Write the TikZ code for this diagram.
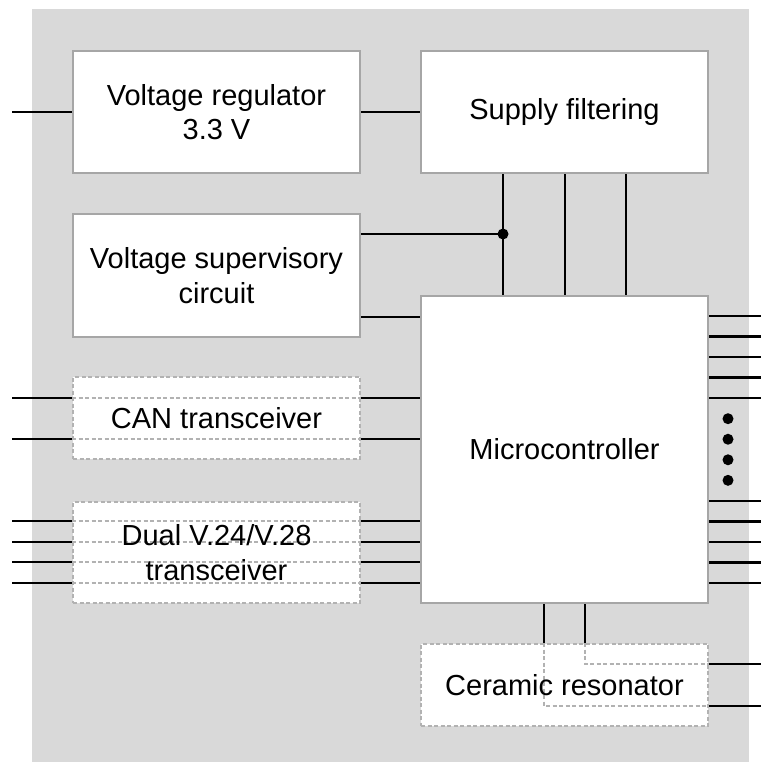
\documentclass[tikz,border=0pt]{standalone}
\usepackage{fontspec}
\setmainfont{Liberation Sans}
\definecolor{bg}{RGB}{217,217,217}
\definecolor{bord}{RGB}{166,166,166}
\definecolor{dsh}{RGB}{178,178,178}
\begin{document}
\begin{tikzpicture}[x=1pt,y=-1pt,
  txt/.style={align=center, inner sep=0pt, font=\fontsize{29}{34.5}\selectfont},
  box/.style={txt, draw=bord, line width=2.6pt, fill=white, minimum width=287pt},
  dbox/.style={draw=dsh, line width=1.6pt, dash pattern=on 4pt off 2.5pt, fill=white, inner sep=0pt, minimum width=287pt},
  dline/.style={draw=dsh, line width=1.6pt, dash pattern=on 4pt off 2.5pt},
  wire/.style={line width=2.6pt, black},
  jdot/.style={circle, fill=black, inner sep=0pt, minimum size=11pt}
]
\useasboundingbox (0,0) rectangle (761,762);
\fill[bg] (32,9) rectangle (749,762);

% solid boxes
\node[box, minimum height=122pt] (reg) at (216.5,112) {Voltage regulator\\3.3 V};
\node[box, minimum height=122pt] (sup) at (564.5,112) {Supply filtering};
\node[box, minimum height=123pt] (vsc) at (216.5,275.5) {Voltage supervisory\\circuit};
\node[box, minimum height=307pt] (mcu) at (564.5,449.5) {Microcontroller};

% dashed boxes
\node[dbox, minimum height=82pt] (can) at (216.5,418) {};
\node[dbox, minimum height=101pt] (dual) at (216.5,552.5) {};
\node[dbox, minimum height=82pt] (cer) at (564.5,685) {};

% regulator / supply
\coordinate (rin) at (12,112);
\draw[wire] (rin) -- (reg.west);
\draw[wire] (reg.east) -- (sup.west);

% supply filtering to microcontroller
\coordinate (j) at (503,234);
\draw[wire] (j |- sup.south) -- (j |- mcu.north);
\draw[wire] (vsc.east |- j) -- (j);
\node[jdot] (jd) at (j) {};
\foreach \x [count=\i] in {565,626} {
  \coordinate (sv\i) at (\x,234);
  \draw[wire] (sv\i |- sup.south) -- (sv\i |- mcu.north);
}

% supervisory to microcontroller
\coordinate (s2) at (390,317);
\draw[wire] (s2 -| vsc.east) -- (s2 -| mcu.west);

% CAN transceiver
\foreach \y [count=\i] in {398,439} {
  \coordinate (canL\i) at (12,\y);
  \draw[wire] (canL\i) -- (canL\i -| can.west);
  \draw[wire] (canL\i -| can.east) -- (canL\i -| mcu.west);
  \draw[dline] (canL\i -| can.west) -- (canL\i -| can.east);
}
\node[txt] (cant) at (can.center) {CAN transceiver};

% Dual V.24/V.28
\foreach \y [count=\i] in {521,542,562,583} {
  \coordinate (duL\i) at (12,\y);
  \draw[wire] (duL\i) -- (duL\i -| dual.west);
  \draw[wire] (duL\i -| dual.east) -- (duL\i -| mcu.west);
  \draw[dline] (duL\i -| dual.west) -- (duL\i -| dual.east);
}
\node[txt] (dualt) at (dual.center) {Dual V.24/V.28\\transceiver};

% microcontroller right side
\foreach \k in {0,1,2,3,4,9,10,11,12,13} {
  \coordinate (mr\k) at (761,316+20.54*\k);
  \draw[wire] (mr\k -| mcu.east) -- (mr\k);
}
\foreach \k in {5,6,7,8} {
  \node[jdot] (md\k) at (728,316+20.54*\k) {};
}

% ceramic resonator
\coordinate (c1) at (544,706);
\coordinate (c2) at (585,664);
\draw[wire] (c1 |- mcu.south) -- (c1 |- cer.north);
\draw[wire] (c2 |- mcu.south) -- (c2 |- cer.north);
\draw[dline] (c1 |- cer.north) -- (c1) -- (c1 -| cer.east);
\draw[dline] (c2 |- cer.north) -- (c2) -- (c2 -| cer.east);
\coordinate (co1) at (761,706);
\coordinate (co2) at (761,664);
\draw[wire] (co1 -| cer.east) -- (co1);
\draw[wire] (co2 -| cer.east) -- (co2);
\node[txt] (cert) at (cer.center) {Ceramic resonator};
\end{tikzpicture}
\end{document}
